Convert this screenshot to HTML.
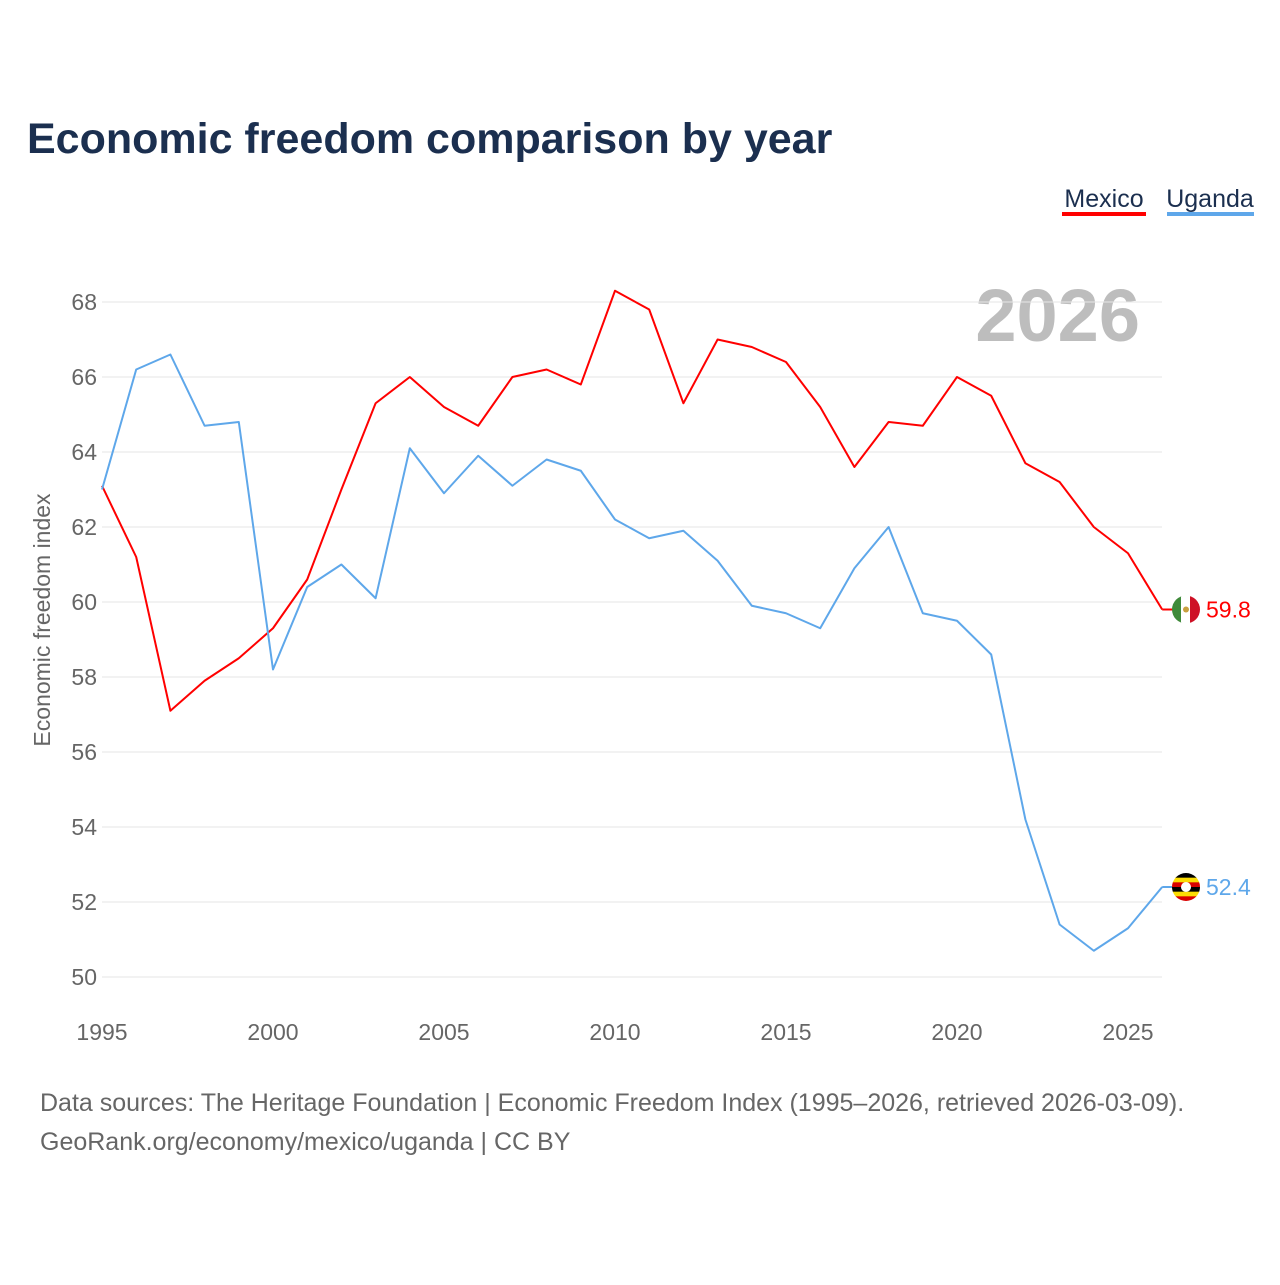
<!DOCTYPE html>
<html><head><meta charset="utf-8"><style>
body{margin:0;background:#fff;font-family:"Liberation Sans",sans-serif}
</style></head><body>
<svg id="chart" width="1280" height="1280" viewBox="0 0 1280 1280">
<rect width="1280" height="1280" fill="#fff"/>
<text x="27" y="153" font-size="43" font-weight="bold" fill="#1b2f4f">Economic freedom comparison by year</text>
<g>
<text x="1104" y="207" font-size="25" fill="#1b2f4f" text-anchor="middle">Mexico</text>
<rect x="1062" y="212" width="84" height="4" fill="#f00"/>
<text x="1210" y="207" font-size="25" fill="#1b2f4f" text-anchor="middle">Uganda</text>
<rect x="1167" y="212" width="87" height="4" fill="#5ea7ea"/>
</g>
<text x="1140" y="341" font-size="74" font-weight="bold" fill="#bdbdbd" text-anchor="end">2026</text>
<text transform="translate(50,620) rotate(-90)" font-size="23" fill="#666" text-anchor="middle">Economic freedom index</text>
<g id="grid"></g><g id="yt"></g><g id="xt"></g><g id="lines"></g>
<text x="40" y="1111" font-size="25" fill="#666">Data sources: The Heritage Foundation | Economic Freedom Index (1995–2026, retrieved 2026-03-09).</text>
<text x="40" y="1150" font-size="25" fill="#666">GeoRank.org/economy/mexico/uganda | CC BY</text>
</svg>
<script>
const years=[1995,1996,1997,1998,1999,2000,2001,2002,2003,2004,2005,2006,2007,2008,2009,2010,2011,2012,2013,2014,2015,2016,2017,2018,2019,2020,2021,2022,2023,2024,2025,2026];
const mexico=[63.1,61.2,57.1,57.9,58.5,59.3,60.6,63.0,65.3,66.0,65.2,64.7,66.0,66.2,65.8,68.3,67.8,65.3,67.0,66.8,66.4,65.2,63.6,64.8,64.7,66.0,65.5,63.7,63.2,62.0,61.3,59.8];
const uganda=[63.0,66.2,66.6,64.7,64.8,58.2,60.4,61.0,60.1,64.1,62.9,63.9,63.1,63.8,63.5,62.2,61.7,61.9,61.1,59.9,59.7,59.3,60.9,62.0,59.7,59.5,58.6,54.2,51.4,50.7,51.3,52.4];
const yTicks=[50,52,54,56,58,60,62,64,66,68];
const xTicks=[1995,2000,2005,2010,2015,2020,2025];
const NS="http://www.w3.org/2000/svg";
const x=v=>102+(v-1995)*(1128-102)/30;
const y=v=>977-(v-50)*(977-302)/18;
function mk(t,a,p){const e=document.createElementNS(NS,t);for(const k in a)e.setAttribute(k,a[k]);p.appendChild(e);return e;}
const g=document.getElementById('grid'),yt=document.getElementById('yt'),xt=document.getElementById('xt'),L=document.getElementById('lines');
yTicks.forEach(v=>{
const l=mk('line',{x1:102,x2:1162,y1:y(v),y2:y(v),stroke:'#e6e6e6','stroke-width':1},g);


const t=mk('text',{x:97,y:y(v)+8,'font-size':23,fill:'#666','text-anchor':'end'},yt);t.textContent=v;


});
xTicks.forEach(v=>{
const t=mk('text',{x:x(v),y:1040,'font-size':23,fill:'#666','text-anchor':'middle'},xt);t.textContent=v;


});
function line(d,c,name){
const p=mk('polyline',{points:d.map((v,i)=>x(years[i])+','+y(v)).join(' '),fill:'none',stroke:c,'stroke-width':2,'stroke-linejoin':'round'},L);


const lv=d[d.length-1],ly=y(lv);
const s=mk('line',{x1:x(years[years.length-1]),x2:1176,y1:ly,y2:ly,stroke:c,'stroke-width':2},L);


const t=mk('text',{x:1206,y:ly+8,'font-size':23,fill:c},L);t.textContent=lv.toFixed(1);


return ly;
}
const my=line(mexico,'#f00','mexico');
const uy=line(uganda,'#5ea7ea','uganda');
const defs=mk('defs',{},L);
const c1=mk('clipPath',{id:'cm'},defs);mk('circle',{cx:1186,cy:my,r:14},c1);
const c2=mk('clipPath',{id:'cu'},defs);mk('circle',{cx:1186,cy:uy,r:14},c2);
const fm=mk('g',{'clip-path':'url(#cm)'},L);


mk('rect',{x:1172,y:my-14,width:10,height:28,fill:'#3f8a3a'},fm);
mk('rect',{x:1181,y:my-14,width:10,height:28,fill:'#fff'},fm);
mk('rect',{x:1190,y:my-14,width:10,height:28,fill:'#ce1126'},fm);
mk('circle',{cx:1186,cy:my,r:3,fill:'#c8a040'},fm);
const fu=mk('g',{'clip-path':'url(#cu)'},L);


['#000','#fcdc04','#d90000','#000','#fcdc04','#d90000'].forEach((c,i)=>mk('rect',{x:1172,y:uy-14+i*28/6,width:28,height:28/6+0.5,fill:c},fu));
mk('circle',{cx:1186,cy:uy,r:5,fill:'#fff'},fu);
</script>
</body></html>
